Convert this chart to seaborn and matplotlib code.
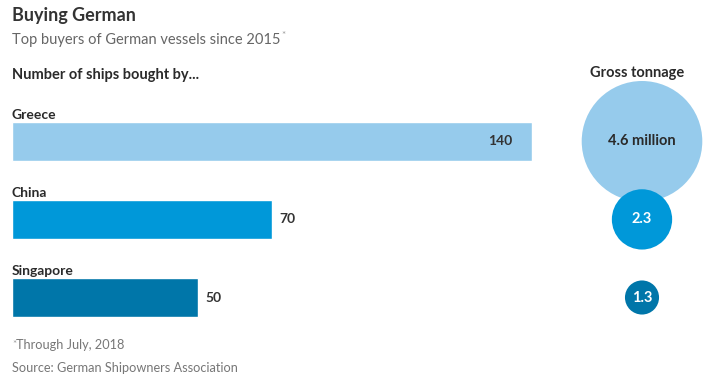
import numpy as np
import pandas as pd
import matplotlib
matplotlib.use("Agg")
import matplotlib.pyplot as plt
import seaborn as sns

# data
countries = ["Greece", "China", "Singapore"]
ships = [140, 70, 50]
tonnage = [4.6, 2.3, 1.3]
tonnage_labels = ["4.6 million", "2.3", "1.3"]
colors = {"Greece": "#96CBEC", "China": "#0098D9", "Singapore": "#0076A9"}

df = pd.DataFrame({"country": countries, "ships": ships, "tonnage": tonnage})

sns.set_style("white")
plt.rcParams["font.family"] = ["Lato", "DejaVu Sans"]

W, H = 721, 388
fig = plt.figure(figsize=(W / 100, H / 100), dpi=100)

def fx(x):
    return x / W

def fy(y):
    return 1 - y / H

# bar axes (pixel layout)
top, bottom = 102.25, 336.55
ax = fig.add_axes([fx(12), fy(bottom), 520.3 / W, (bottom - top) / H])
bar_w = 0.503
sns.barplot(data=df, x="ships", y="country", hue="country", palette=colors,
            width=bar_w, saturation=1, legend=False, ax=ax)
ax.set_xlim(0, 140)
ax.set_ylim(2.5, -0.5)
ax.axis("off")

for i, (c, v) in enumerate(zip(countries, ships)):
    ax.annotate(c, (0, i - bar_w / 2), xytext=(0, 1.8), textcoords="offset points",
                ha="left", va="baseline", fontsize=10, fontweight="bold", color="#2a2a2a")
    if v > 100:
        ax.annotate(str(v), (v, i), xytext=(-14.5, 0), textcoords="offset points",
                    ha="right", va="center", fontsize=10, fontweight="bold", color="#333")
    else:
        ax.annotate(str(v), (v, i), xytext=(5.5, 0), textcoords="offset points",
                    ha="left", va="center", fontsize=10, fontweight="bold", color="#333")

# bubble axes
ax2 = fig.add_axes([fx(642 - 50), fy(bottom), 100 / W, (bottom - top) / H])
k = 120.6 / 4.6 * 0.72  # points of diameter per unit of tonnage
sizes = {t: (t * k) ** 2 for t in tonnage}
sns.scatterplot(data=df, x=np.zeros(len(df)), y="country", hue="country", palette=colors,
                size="tonnage", sizes=sizes, legend=False, linewidth=0, alpha=1,
                clip_on=False, ax=ax2)
ax2.set_xlim(-1, 1)
ax2.set_ylim(2.5, -0.5)
ax2.axis("off")
for i, lab in enumerate(tonnage_labels):
    ax2.text(0, i, lab, ha="center", va="center", fontsize=10.5, fontweight="bold",
             color="#2a2a2a" if i == 0 else "white")

# text
fig.text(fx(12), fy(21), "Buying German", fontsize=13, fontweight="bold",
         color="#333", va="baseline")
sub = fig.text(fx(12), fy(44), "Top buyers of German vessels since 2015", fontsize=10.5,
               color="#666", va="baseline")
fig.text(fx(12), fy(78.5), "Number of ships bought by...", fontsize=10.5, fontweight="bold",
         color="#2a2a2a", va="baseline")
fig.text(fx(637), fy(77), "Gross tonnage", fontsize=10.5, fontweight="bold",
         color="#2a2a2a", ha="center", va="baseline")

fig.canvas.draw()
bb = sub.get_window_extent()
fig.text(bb.x1 / W + 1 / W, fy(38), "*", fontsize=7, color="#999", va="baseline")

fig.text(fx(12), fy(347), "*", fontsize=7, color="#999", va="baseline")
fig.text(fx(16), fy(349), "Through July, 2018", fontsize=9.2, color="#777", va="baseline")
fig.text(fx(12), fy(372), "Source: German Shipowners Association", fontsize=9.2,
         color="#777", va="baseline")

fig.savefig("out.png", dpi=100, facecolor="white")
